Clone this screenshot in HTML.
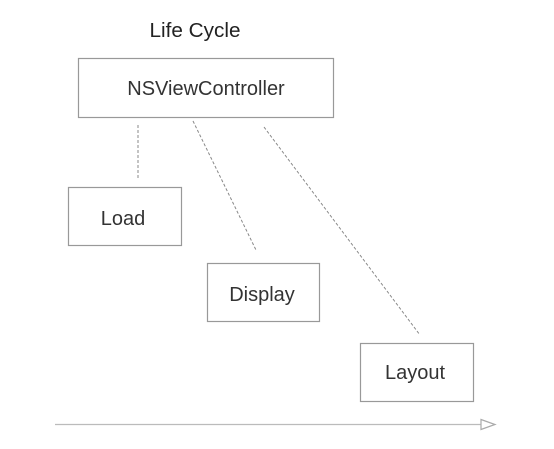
<!DOCTYPE html>
<html><head><style>
body{margin:0;background:#fff;}
svg{display:block;font-family:"Liberation Sans",Arial,sans-serif;}
</style></head><body>
<svg width="554" height="449" viewBox="0 0 554 449">
<text x="195" y="37" font-size="20" text-anchor="middle" fill="#222" textLength="91" lengthAdjust="spacingAndGlyphs">Life Cycle</text>
<g fill="#fff" stroke="#999" stroke-width="1.2">
<rect x="78.5" y="58.5" width="255" height="59"/>
<rect x="68.5" y="187.5" width="113" height="58"/>
<rect x="207.5" y="263.5" width="112" height="58"/>
<rect x="360.5" y="343.5" width="113" height="58"/>
</g>
<g font-size="20" fill="#333" text-anchor="middle">
<text x="206" y="95">NSViewController</text>
<text x="123" y="225">Load</text>
<text x="262" y="301">Display</text>
<text x="415" y="379">Layout</text>
</g>
<g stroke="#888" stroke-width="1" stroke-dasharray="3,2" fill="none">
<line x1="138" y1="125" x2="138" y2="178"/>
<line x1="193" y1="121" x2="256" y2="250"/>
<line x1="264" y1="127" x2="420" y2="335"/>
</g>
<line x1="55" y1="424.5" x2="481" y2="424.5" stroke="#bbb" stroke-width="1.2"/>
<path d="M481 419.5 L495 424.5 L481 429.5 Z" fill="#fff" stroke="#aaa" stroke-width="1.2"/>
</svg>
</body></html>
